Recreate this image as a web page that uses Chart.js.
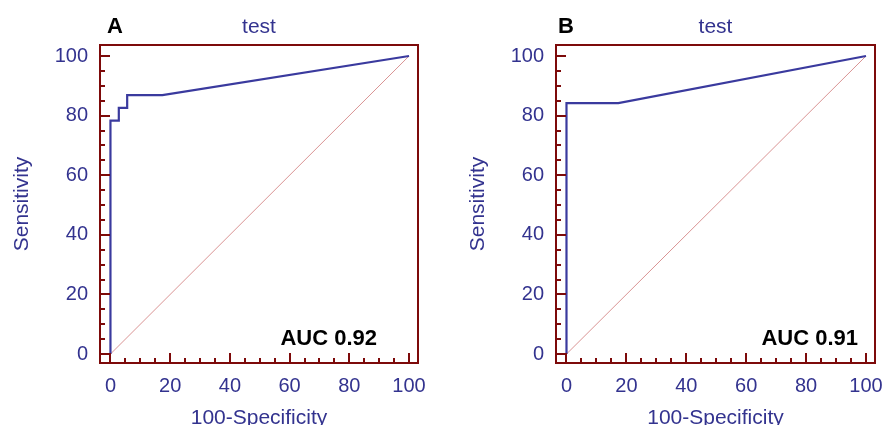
<!DOCTYPE html>
<html>
<head>
<meta charset="utf-8">
<script src="https://cdn.jsdelivr.net/npm/chart.js@4/dist/chart.umd.min.js"></script>
<style>
  body { margin: 0; background: #fff; }
  canvas { position: absolute; top: 0; }
  #roc-a { left: 0; }
  #roc-b { left: 456px; }
</style>
</head>
<body>
<canvas id="roc-a" width="441" height="425"></canvas>
<canvas id="roc-b" width="427" height="425"></canvas>
<script>
// panel A
var fprA = [0, 0, 2.8, 2.8, 5.6, 5.6, 17.4, 100];
var tprA = [0, 78.3, 78.3, 82.6, 82.6, 86.9, 86.9, 100];
// panel B
var fprB = [0, 0, 17.3, 100];
var tprB = [0, 84.2, 84.2, 100];
// chance line
var refX = [0, 100];
var refY = [0, 100];

var blue = '#33338f';
var frame = '#7d0a0a';

var toPoints = function (xs, ys) {
    return xs.map(function (x, i) { return {x: x, y: ys[i]}; });
};

// frame + inward ticks + panel texts
var rocDecor = {
    id: 'rocDecor',
    afterDraw: function (chart) {
        var ctx = chart.ctx;
        var a = chart.chartArea;
        var xs = chart.scales.x, ys = chart.scales.y;
        var o = chart.options.plugins.rocDecor;
        ctx.save();
        ctx.strokeStyle = frame;
        ctx.lineWidth = 2;
        ctx.strokeRect(a.left, a.top, a.right - a.left, a.bottom - a.top);
        ctx.beginPath();
        for (var v = 0; v <= 100; v += 5) {
            var len = v % 20 === 0 ? 10 : 5;
            var px = Math.round(xs.getPixelForValue(v));
            ctx.moveTo(px, a.bottom);
            ctx.lineTo(px, a.bottom - len);
            var py = Math.round(ys.getPixelForValue(v));
            ctx.moveTo(a.left, py);
            ctx.lineTo(a.left + len, py);
        }
        ctx.stroke();

        ctx.textBaseline = 'alphabetic';
        ctx.fillStyle = '#000';
        ctx.font = 'bold 22px "Liberation Sans", Arial, sans-serif';
        ctx.textAlign = 'left';
        ctx.fillText(o.letter, a.left + o.letterInset, 33);

        ctx.fillStyle = blue;
        ctx.font = '21px "Liberation Sans", Arial, sans-serif';
        ctx.textAlign = 'center';
        ctx.fillText('test', (a.left + a.right) / 2, 33);

        ctx.fillStyle = '#000';
        ctx.font = 'bold 22px "Liberation Sans", Arial, sans-serif';
        ctx.textAlign = 'right';
        ctx.fillText(o.auc, a.right - o.aucInset, 345);
        ctx.restore();
    }
};

var makeConfig = function (xs, ys, letter, letterInset, auc, aucInset, padRight) {
    return {
        type: 'line',
        data: {
            datasets: [{
                data: toPoints(xs, ys),
                borderColor: '#3a3a9e',
                borderWidth: 2.2,
                pointRadius: 0,
                tension: 0,
                order: 1
            }, {
                data: toPoints(refX, refY),
                borderColor: '#d99393',
                borderWidth: 1,
                pointRadius: 0,
                order: 2
            }]
        },
        options: {
            responsive: false,
            animation: false,
            layout: {padding: {top: 45, right: padRight, left: 0, bottom: 0}},
            plugins: {
                legend: {display: false},
                tooltip: {enabled: false},
                rocDecor: {letter: letter, letterInset: letterInset, auc: auc, aucInset: aucInset}
            },
            scales: {
                x: {
                    type: 'linear',
                    min: -3.5,
                    max: 103,
                    grid: {display: false, drawTicks: false},
                    border: {display: false},
                    ticks: {
                        stepSize: 20,
                        includeBounds: false,
                        padding: 11,
                        color: blue,
                        font: {family: '"Liberation Sans", Arial, sans-serif', size: 20}
                    },
                    title: {
                        display: true,
                        text: '100-Specificity',
                        color: blue,
                        padding: {top: 0, bottom: 0},
                        font: {family: '"Liberation Sans", Arial, sans-serif', size: 21, lineHeight: 0.62}
                    },
                    afterFit: function (scale) {
                        scale.height = 62;
                        // end labels sit inside the axis range, no extra room needed
                        scale.paddingLeft = 0;
                        scale.paddingRight = 0;
                    }
                },
                y: {
                    type: 'linear',
                    min: -3,
                    max: 103.7,
                    grid: {display: false, drawTicks: false},
                    border: {display: false},
                    ticks: {
                        stepSize: 20,
                        includeBounds: false,
                        padding: 12,
                        color: blue,
                        font: {family: '"Liberation Sans", Arial, sans-serif', size: 20}
                    },
                    title: {
                        display: true,
                        text: 'Sensitivity',
                        color: blue,
                        padding: {top: 10, bottom: 0},
                        font: {family: '"Liberation Sans", Arial, sans-serif', size: 21}
                    },
                    afterFit: function (scale) { scale.width = 100; }
                }
            }
        },
        plugins: [rocDecor]
    };
};

window.onload = function () {
    new Chart(document.getElementById('roc-a').getContext('2d'),
        makeConfig(fprA, tprA, 'A', 7, 'AUC 0.92', 41, 23));
    new Chart(document.getElementById('roc-b').getContext('2d'),
        makeConfig(fprB, tprB, 'B', 2, 'AUC 0.91', 17, 8));
};
</script>
</body>
</html>
